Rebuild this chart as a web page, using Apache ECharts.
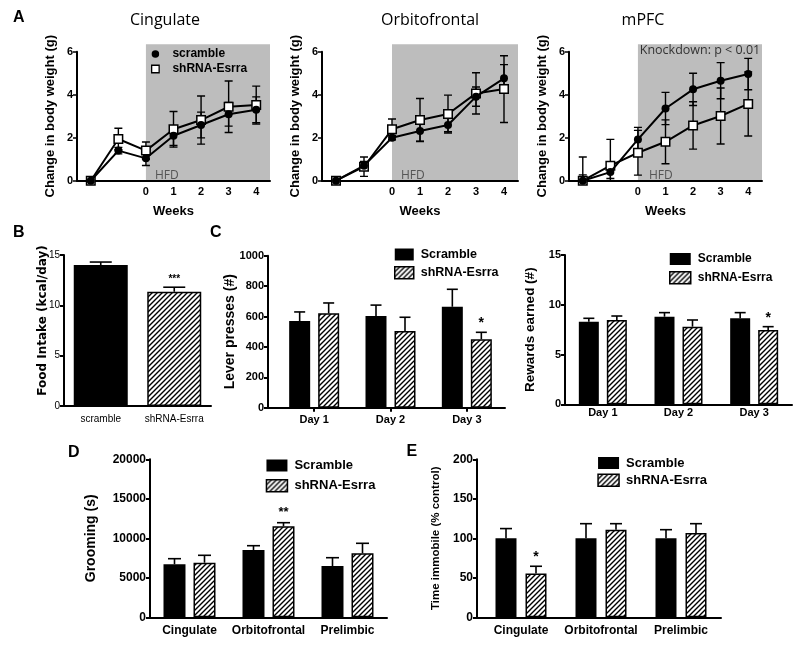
<!DOCTYPE html>
<html><head><meta charset="utf-8">
<script src="https://cdn.jsdelivr.net/npm/echarts@6/dist/echarts.min.js"></script>
<style>html,body{margin:0;padding:0;background:#fff}#c{width:800px;height:648px}</style>
</head><body><div id="c"></div>
<script>
// ---------------- DATA ----------------
// Panel A: change in body weight (g)
const weeks = ['-2', '-1', '0', '1', '2', '3', '4'];
const weekTickLabels = ['', '', '0', '1', '2', '3', '4'];
const cingScramble = [0, 1.40, 1.04, 2.09, 2.59, 3.09, 3.30];
const cingScrambleErr = [0.05, 0.15, 0.33, 0.45, 0.60, 0.55, 0.60];
const cingShRNA = [0, 1.94, 1.40, 2.39, 2.82, 3.44, 3.52];
const cingShRNAErr = [0.05, 0.50, 0.40, 0.83, 1.12, 1.20, 0.88];
const orbScramble = [0, 0.70, 2.00, 2.31, 2.59, 3.91, 4.76];
const orbScrambleErr = [0.05, 0.20, 0.10, 0.47, 0.31, 0.45, 0.64];
const orbShRNA = [0, 0.65, 2.39, 2.82, 3.10, 4.06, 4.26];
const orbShRNAErr = [0.05, 0.45, 0.48, 1.00, 0.88, 0.96, 1.55];
const mpfcScramble = [0, 0.40, 1.92, 3.36, 4.25, 4.65, 4.96];
const mpfcScrambleErr = [0.27, 0.30, 0.56, 0.75, 0.75, 0.84, 0.73];
const mpfcShRNA = [0, 0.70, 1.30, 1.81, 2.57, 3.01, 3.57];
const mpfcShRNAErr = [1.10, 1.22, 1.04, 1.02, 1.10, 1.30, 1.49];
// Panel B: food intake
const foodCats = ['scramble', 'shRNA-Esrra'];
const foodIntake = [14.0, 11.35];
const foodIntakeErr = [0.3, 0.45];
const foodSig = ['', '***'];
// Panel C
const dayCats = ['Day 1', 'Day 2', 'Day 3'];
const leverScramble = [570, 603, 664];
const leverScrambleErr = [60, 72, 115];
const leverShRNA = [621, 505, 450];
const leverShRNAErr = [68, 90, 46];
const leverSig = ['', '', '*'];
const rewardScramble = [8.30, 8.80, 8.64];
const rewardScrambleErr = [0.34, 0.41, 0.57];
const rewardShRNA = [8.47, 7.80, 7.47];
const rewardShRNAErr = [0.40, 0.67, 0.33];
const rewardSig = ['', '', '*'];
// Panel D / E
const regionCats = ['Cingulate', 'Orbitofrontal', 'Prelimbic'];
const groomScramble = [6709, 8519, 6494];
const groomScrambleErr = [709, 544, 1050];
const groomShRNA = [6911, 11519, 8101];
const groomShRNAErr = [937, 456, 1266];
const groomSig = ['', '**', ''];
const immobScramble = [100, 100, 100];
const immobScrambleErr = [12.3, 18.5, 10.9];
const immobShRNA = [55.4, 110.9, 106.6];
const immobShRNAErr = [9.2, 7.6, 11.9];
const immobSig = ['*', '', ''];

// ---------------- BUILD ----------------
const F = 'Liberation Sans';
const grids = [], xAxes = [], yAxes = [], series = [], legends = [], graphics = [];
const plain = v => String(v);

function makeHatch() {
  const c = document.createElement('canvas'); c.width = 5; c.height = 5;
  const g = c.getContext('2d');
  g.fillStyle = '#fff'; g.fillRect(0, 0, 5, 5);
  g.strokeStyle = '#000'; g.lineWidth = 1.4; g.beginPath();
  g.moveTo(-1, 6); g.lineTo(6, -1);
  g.moveTo(-1, 1); g.lineTo(1, -1);
  g.moveTo(4, 6); g.lineTo(6, 4);
  g.stroke();
  return c;
}
const hatch = { image: makeHatch(), repeat: 'repeat' };

function addGrid(g) { grids.push(Object.assign({ containLabel: false, outerBoundsMode: 'none' }, g)); return grids.length - 1; }

function errSeries(xi, yi, vals, errs, o) {
  return {
    type: 'custom', xAxisIndex: xi, yAxisIndex: yi, z: o.z || 3, silent: true, clip: !!o.clip,
    data: vals.map((v, i) => [i, v, errs[i]]),
    renderItem: function (params, api) {
      const i = api.value(0), v = api.value(1), e = api.value(2);
      const c = api.coord([i, v]);
      const x = c[0] + (o.dx || 0);
      const top = api.coord([i, v + e])[1];
      const bot = o.twoSided ? api.coord([i, v - e])[1] : c[1];
      const h = o.cap / 2;
      const st = { stroke: '#000', lineWidth: o.lw || 1.6 };
      const ch = [
        { type: 'line', shape: { x1: x, y1: top, x2: x, y2: bot }, style: st },
        { type: 'line', shape: { x1: x - h, y1: top, x2: x + h, y2: top }, style: st }
      ];
      if (o.twoSided) ch.push({ type: 'line', shape: { x1: x - h, y1: bot, x2: x + h, y2: bot }, style: st });
      const s = o.sig && o.sig[i];
      if (s) ch.push({ type: 'text', x: x, y: top - o.sigGap, style: { text: s, fill: '#000', font: 'bold ' + o.sigFont + 'px "Liberation Sans"', align: 'center', verticalAlign: 'middle' } });
      return { type: 'group', children: ch };
    }
  };
}

// decorative baseline joining an offset y-axis to the x-axis
function baseLine(left, top, width, height) {
  const g = addGrid({ left: left, top: top, width: width, height: height });
  xAxes.push({ type: 'value', gridIndex: g, min: 0, max: 1, z: 3, axisLine: { show: true, onZero: false, lineStyle: { color: '#000', width: 2 } }, axisTick: { show: false }, axisLabel: { show: false }, splitLine: { show: false } });
  yAxes.push({ type: 'value', gridIndex: g, min: 0, max: 1, show: false });
}

function linePanel(p) {
  const top = 51.7, height = 129, boxTop = 44.2;
  const gi = addGrid({ left: p.left, top: top, width: p.width, height: height });
  const gh = addGrid({ left: p.left, top: boxTop, width: p.width, height: top + height - boxTop });
  const xi = xAxes.length, yi = yAxes.length;
  xAxes.push({
    type: 'category', gridIndex: gi, data: weeks, boundaryGap: true, z: 3,
    axisLine: { lineStyle: { color: '#000', width: 2 } },
    axisTick: { alignWithLabel: true, interval: 0, length: 4, lineStyle: { color: '#000', width: 1.5 } },
    axisLabel: { interval: 0, formatter: (v, i) => weekTickLabels[i], color: '#000', fontFamily: F, fontWeight: 'bold', fontSize: 11, margin: 6 },
    name: 'Weeks', nameLocation: 'middle', nameGap: 24, nameMoveOverlap: false,
    nameTextStyle: { color: '#000', fontFamily: F, fontWeight: 'bold', fontSize: 13 }
  });
  xAxes.push({ type: 'value', gridIndex: gh, min: -2.5, max: 4.5, show: false });
  yAxes.push({
    type: 'value', gridIndex: gi, min: 0, max: 6, interval: 2, z: 3,
    splitLine: { show: false },
    axisLine: { show: true, lineStyle: { color: '#000', width: 2 } },
    axisTick: { show: true, length: 4, lineStyle: { color: '#000', width: 1.5 } },
    axisLabel: { formatter: plain, color: '#000', fontFamily: F, fontWeight: 'bold', fontSize: 11, margin: 4 },
    name: 'Change in body weight (g)', nameLocation: 'middle', nameGap: 20, nameMoveOverlap: false,
    nameTextStyle: { color: '#000', fontFamily: F, fontWeight: 'bold', fontSize: 13 }
  });
  yAxes.push({ type: 'value', gridIndex: gh, min: 0, max: 1, show: false });
  const areas = [[
    { xAxis: 0, yAxis: 0, label: { show: true, position: 'insideBottomLeft', distance: 0, offset: [p.hfdOff, 1], formatter: 'HFD', color: '#555', fontFamily: 'Open Sans', fontSize: 12 } },
    { xAxis: 4.5, yAxis: 1 }
  ]];
  if (p.note) areas.push([
    { xAxis: 0, yAxis: 0, itemStyle: { color: 'rgba(0,0,0,0)' }, label: { show: true, position: 'insideTop', distance: 0, formatter: p.note, color: '#333', fontFamily: 'Open Sans', fontSize: 12.5 } },
    { xAxis: 4.5, yAxis: 1 }
  ]);
  series.push({
    type: 'line', xAxisIndex: xi + 1, yAxisIndex: yi + 1, data: [[0, 0]], symbol: 'none', lineStyle: { opacity: 0 },
    z: 1, silent: true, clip: false,
    markArea: { silent: true, itemStyle: { color: '#bdbdbd' }, data: areas }
  });
  series.push(errSeries(xi, yi, p.sh, p.shErr, { cap: 8, twoSided: true, clip: true, lw: 1.4 }));
  series.push(errSeries(xi, yi, p.scr, p.scrErr, { cap: 8, twoSided: true, clip: true, lw: 1.4 }));
  series.push({
    type: 'line', name: 'shRNA-Esrra (A)', xAxisIndex: xi, yAxisIndex: yi, data: p.sh, z: 4,
    symbol: 'rect', symbolSize: 8.5, lineStyle: { color: '#000', width: 2 },
    itemStyle: { color: '#fff', borderColor: '#000', borderWidth: 1.5 }
  });
  series.push({
    type: 'line', name: 'scramble', xAxisIndex: xi, yAxisIndex: yi, data: p.scr, z: 5,
    symbol: 'circle', symbolSize: 8, lineStyle: { color: '#000', width: 2 },
    itemStyle: { color: '#000' }
  });
  graphics.push({ type: 'text', x: p.titleX, y: 20.7, style: { text: p.title, fill: '#000', font: '16px "Open Sans"', align: 'center', verticalAlign: 'middle' } });
}

function barPanel(p) {
  const gi = addGrid({ left: p.left, top: p.top, width: p.width, height: p.height });
  const xi = xAxes.length, yi = yAxes.length;
  xAxes.push({
    type: 'category', gridIndex: gi, data: p.cats, z: 3,
    axisLine: { lineStyle: { color: '#000', width: 2 } },
    axisTick: { show: !!p.xTicks, alignWithLabel: true, interval: 0, length: 4, lineStyle: { color: '#000', width: 2 } },
    axisLabel: { interval: 0, margin: p.xMargin, color: '#000', fontFamily: F, fontWeight: p.xWeight || 'bold', fontSize: p.xFont }
  });
  yAxes.push({
    type: 'value', gridIndex: gi, min: 0, max: p.yMax, interval: p.yInt, offset: p.yOffset || 0, z: 3,
    splitLine: { show: false },
    axisLine: { show: true, lineStyle: { color: '#000', width: 2 } },
    axisTick: { show: true, length: 4, lineStyle: { color: '#000', width: 2 } },
    axisLabel: { formatter: plain, color: '#000', fontFamily: F, fontWeight: p.yWeight || 'bold', fontSize: p.yFont, margin: 4 },
    name: p.yName, nameLocation: 'middle', nameGap: p.nameGap, nameMoveOverlap: false,
    nameTextStyle: { color: '#000', fontFamily: p.nameFamily || F, fontWeight: 'bold', fontSize: p.nameFont, padding: p.namePad || 0 }
  });
  if (p.yOffset) baseLine(p.left - p.yOffset, p.top, p.yOffset + 2, p.height);
  if (p.single) {
    series.push({
      type: 'bar', name: 'food', xAxisIndex: xi, yAxisIndex: yi, barWidth: p.barW,
      data: p.vals.map((v, i) => i === 0 ? { value: v, itemStyle: { color: '#000' } } : { value: v, itemStyle: { color: hatch, borderColor: '#000', borderWidth: 1.5 } })
    });
    series.push(errSeries(xi, yi, p.vals, p.errs, { cap: p.cap, sig: p.sig, sigFont: p.sigFont, sigGap: p.sigGap }));
    return;
  }
  const gapPct = (p.gap / p.barW * 100).toFixed(1) + '%';
  const d = (p.barW + p.gap) / 2;
  series.push({ type: 'bar', name: 'Scramble', xAxisIndex: xi, yAxisIndex: yi, data: p.scr, barWidth: p.barW, barGap: gapPct, itemStyle: { color: '#000' } });
  series.push({ type: 'bar', name: 'shRNA-Esrra', xAxisIndex: xi, yAxisIndex: yi, data: p.sh, barWidth: p.barW, barGap: gapPct, itemStyle: { color: hatch, borderColor: '#000', borderWidth: 1.5 } });
  series.push(errSeries(xi, yi, p.scr, p.scrErr, { dx: -d, cap: p.cap }));
  series.push(errSeries(xi, yi, p.sh, p.shErr, { dx: d, cap: p.cap, sig: p.sig, sigFont: p.sigFont, sigGap: p.sigGap }));
  legends.push({
    left: p.lgLeft - 5, top: p.lgTop - 5, orient: 'vertical', itemWidth: p.lgW, itemHeight: 12, itemGap: p.lgGap,
    selectedMode: false,
    data: [{ name: 'Scramble', icon: 'rect' }, { name: 'shRNA-Esrra', icon: 'rect', itemStyle: { borderColor: '#000', borderWidth: 1.5 } }],
    textStyle: { color: '#000', fontFamily: F, fontWeight: 'bold', fontSize: p.lgFont, padding: [0, 0, 0, 2] }
  });
}

linePanel({ left: 77, width: 193, title: 'Cingulate', titleX: 165, scr: cingScramble, scrErr: cingScrambleErr, sh: cingShRNA, shErr: cingShRNAErr, hfdOff: 9 });
linePanel({ left: 322, width: 196, title: 'Orbitofrontal', titleX: 430, scr: orbScramble, scrErr: orbScrambleErr, sh: orbShRNA, shErr: orbShRNAErr, hfdOff: 9 });
linePanel({ left: 569, width: 193, title: 'mPFC', titleX: 643, scr: mpfcScramble, scrErr: mpfcScrambleErr, sh: mpfcShRNA, shErr: mpfcShRNAErr, hfdOff: 11, note: 'Knockdown: p < 0.01' });

legends.push({
  left: 146, top: 43, orient: 'vertical', itemWidth: 24, itemHeight: 7.5, itemGap: 3, selectedMode: false,
  data: [
    { name: 'scramble', icon: 'circle', itemStyle: { color: '#000', borderWidth: 0 } },
    { name: 'shRNA-Esrra (A)', icon: 'path://M0,0H10V10H0Z', itemStyle: { color: '#fff', borderColor: '#000', borderWidth: 1.3 } }
  ],
  formatter: n => n.replace(' (A)', ''),
  textStyle: { color: '#000', fontFamily: F, fontWeight: 'bold', fontSize: 12 }
});

barPanel({ single: true, left: 64, top: 255, width: 147, height: 151, cats: foodCats, vals: foodIntake, errs: foodIntakeErr, sig: foodSig,
  yMax: 15, yInt: 5, barW: 54, cap: 22, sigFont: 10, sigGap: 8, xMargin: 8, xFont: 10, xWeight: 'normal',
  yFont: 10, yWeight: 'normal', yName: 'Food Intake (kcal/day)', nameGap: 15, nameFont: 12, nameFamily: 'DejaVu Sans', namePad: [0, 0, 0, 20] });

barPanel({ left: 276, top: 255.7, width: 229, height: 152, yOffset: 8, cats: dayCats, scr: leverScramble, scrErr: leverScrambleErr, sh: leverShRNA, shErr: leverShRNAErr, sig: leverSig,
  yMax: 1000, yInt: 200, barW: 21, gap: 8, cap: 11, sigFont: 14, sigGap: 9, xTicks: true, xMargin: 7, xFont: 11, yFont: 11,
  yName: 'Lever presses (#)', nameGap: 31, nameFont: 14, lgLeft: 394, lgTop: 248, lgW: 19, lgGap: 5, lgFont: 12.5 });

barPanel({ left: 565, top: 255, width: 227, height: 149.3, cats: dayCats, scr: rewardScramble, scrErr: rewardScrambleErr, sh: rewardShRNA, shErr: rewardShRNAErr, sig: rewardSig,
  yMax: 15, yInt: 5, barW: 20, gap: 8, cap: 11, sigFont: 14, sigGap: 9, xTicks: false, xMargin: 3, xFont: 11, yFont: 11,
  yName: 'Rewards earned (#)', nameGap: 28, nameFont: 13.5, lgLeft: 669, lgTop: 253, lgW: 21, lgGap: 6, lgFont: 12 });

barPanel({ left: 150, top: 459.3, width: 237, height: 158, cats: regionCats, scr: groomScramble, scrErr: groomScrambleErr, sh: groomShRNA, shErr: groomShRNAErr, sig: groomSig,
  yMax: 20000, yInt: 5000, barW: 22, gap: 8, cap: 13, sigFont: 13, sigGap: 10, xTicks: false, xMargin: 7, xFont: 12, yFont: 12,
  yName: 'Grooming (s)', nameGap: 52, nameFont: 14, lgLeft: 265.7, lgTop: 459, lgW: 21, lgGap: 7, lgFont: 13 });

barPanel({ left: 481, top: 459.3, width: 240, height: 158, yOffset: 4, cats: regionCats, scr: immobScramble, scrErr: immobScrambleErr, sh: immobShRNA, shErr: immobShRNAErr, sig: immobSig,
  yMax: 200, yInt: 50, barW: 21, gap: 9, cap: 12, sigFont: 14, sigGap: 9, xTicks: false, xMargin: 7, xFont: 12, yFont: 12,
  yName: 'Time immobile (% control)', nameGap: 35, nameFont: 11.5, lgLeft: 597.3, lgTop: 456.5, lgW: 21, lgGap: 4, lgFont: 13 });

// panel letters
[['A', 13, 10], ['B', 13, 225], ['C', 210, 225], ['D', 68, 445], ['E', 406.5, 444]].forEach(l => {
  graphics.push({ type: 'text', x: l[1], y: l[2], style: { text: l[0], fill: '#000', font: 'bold 16px "Liberation Sans"', align: 'left', verticalAlign: 'top' } });
});

const chart = echarts.init(document.getElementById('c'), null, { renderer: 'canvas' });
chart.setOption({
  animation: false,
  backgroundColor: '#fff',
  grid: grids, xAxis: xAxes, yAxis: yAxes, series: series, legend: legends, graphic: graphics
});
</script>
</body></html>
